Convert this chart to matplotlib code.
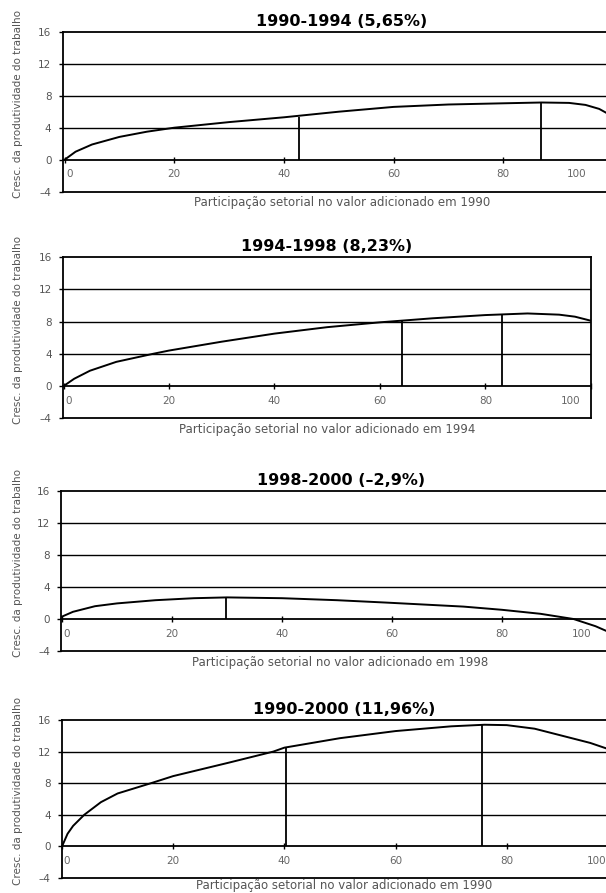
import matplotlib
matplotlib.use("Agg")
import matplotlib.pyplot as plt
from matplotlib import font_manager
from matplotlib.transforms import ScaledTranslation

# ── Data ───────────────────────────────────────────────────────
titles = ["1990-1994 (5,65%)", "1994-1998 (8,23%)", "1998-2000 (\u20132,9%)", "1990-2000 (11,96%)"]
xlabels = [
    "Participação setorial no valor adicionado em 1990",
    "Participação setorial no valor adicionado em 1994",
    "Participação setorial no valor adicionado em 1998",
    "Participação setorial no valor adicionado em 1990",
]
ylabel = "Cresc. da produtividade do trabalho"

yticks = [-4, 0, 4, 8, 12, 16]
ytick_labels = ["\u20134", "0", "4", "8", "12", "16"]
xticks = [0, 20, 40, 60, 80, 100]
xtick_labels = ["0", "20", "40", "60", "80", "100"]
grid_levels = [4, 8, 12]

# cumulative sector share (x) vs productivity growth (y)
x_9094 = [0, 2, 5, 10, 15, 20, 30, 40, 50, 60, 70, 80, 87, 92, 95, 97.5, 100]
y_9094 = [0, 1.0, 1.9, 2.85, 3.5, 4.0, 4.7, 5.3, 6.0, 6.6, 6.9, 7.05, 7.15, 7.1, 6.85, 6.35, 5.4]

x_9498 = [0, 2, 5, 10, 17, 20, 30, 40, 50, 60, 64, 70, 80, 88, 94, 97, 100]
y_9498 = [0, 0.9, 1.9, 3.0, 4.0, 4.4, 5.5, 6.5, 7.3, 7.9, 8.1, 8.4, 8.8, 9.0, 8.85, 8.6, 8.1]

x_9800 = [0, 2, 6, 10, 17, 24, 30, 40, 50, 59, 66, 73, 80, 87, 93, 97, 100]
y_9800 = [0.3, 0.9, 1.6, 1.95, 2.35, 2.6, 2.7, 2.6, 2.35, 2.05, 1.8, 1.55, 1.15, 0.65, 0, -0.9, -1.8]

x_9000 = [0, 1, 2, 4, 7, 10, 16, 20, 30, 38, 40, 50, 60, 70, 76, 80, 85, 90, 95, 100]
y_9000 = [0, 1.6, 2.6, 4.0, 5.6, 6.7, 8.0, 8.9, 10.6, 12.0, 12.5, 13.7, 14.6, 15.2, 15.4, 15.35, 14.9, 14.0, 13.1, 11.9]

series_x = [x_9094, x_9498, x_9800, x_9000]
series_y = [y_9094, y_9498, y_9800, y_9000]

# vertical markers: position and height
vline_x = [[42.8, 86.8], [64.2, 83.1], [29.8], [40.3, 75.5]]
vline_top = [[5.3, 7.15], [8.1, 8.95], [2.7], [12.5, 15.4]]

# ── Layout (pixels on a 606x893 canvas) ────────────────────────
W, H = 606, 893
# left spine, x=0 pixel, px per unit, top, bottom, x max, shift of "100" label, xlabel y
panels = [
    (62.5, 64.6, 5.483, 31.7, 191.7, 101.5, -36, -0.03),
    (62.7, 63.6, 5.272, 257.0, 418.3, 100.0, -20, -0.03),
    (61.0, 62.0, 5.50, 491.0, 651.0, 101.5, -30, -0.03),
    (61.7, 62.0, 5.56, 720.0, 878.0, 101.5, -21, -0.008),
]
YLABEL_LEN = 187  # px, length of the rotated y label in the reference


def _narrow_family():
    """Prefer a condensed face for the rotated label, if one is installed."""
    for fam in ["Liberation Sans Narrow", "DejaVu Sans Condensed"]:
        try:
            font_manager.findfont(fam, fallback_to_default=False)
            return fam
        except Exception:
            continue
    return "DejaVu Sans"


plt.rcParams["font.family"] = ["DejaVu Sans"]
fig = plt.figure(figsize=(W / 100, H / 100), dpi=100)
fig.patch.set_facecolor("white")
ylab_family = _narrow_family()

ylabel_texts = []
for i, (left, x0, ppu, top, bottom, xmax, shift100, xlab_y) in enumerate(panels):
    xmin = (left - x0) / ppu
    right = x0 + xmax * ppu
    ax = fig.add_axes([left / W, 1 - bottom / H, (right - left) / W, (bottom - top) / H])
    ax.set_xlim(xmin, xmax)
    ax.set_ylim(-4, 16)

    for lvl in grid_levels:
        ax.axhline(lvl, color="black", lw=1.0, zorder=1)
    ax.axhline(-4, color="black", lw=1.3, zorder=1, clip_on=False)

    ax.plot(series_x[i], series_y[i], color="black", lw=1.4, zorder=3)
    ax.vlines(vline_x[i], 0, vline_top[i], color="black", lw=1.3, zorder=3)

    for side in ["left", "top", "right", "bottom"]:
        ax.spines[side].set_color("black")
        ax.spines[side].set_linewidth(1.3)
    ax.spines["bottom"].set_position(("data", 0))

    ax.set_yticks(yticks)
    ax.set_yticklabels(ytick_labels)
    ax.set_xticks(xticks)
    ax.set_xticklabels(xtick_labels)
    ax.tick_params(axis="y", direction="out", length=3, width=1, pad=5,
                   labelsize=7.5, labelcolor="#555555")
    ax.tick_params(axis="x", direction="inout", length=4, width=1, pad=5,
                   labelsize=7.5, labelcolor="#666666")

    for lab in ax.get_xticklabels():
        if lab.get_text() == "0":
            lab.set_transform(lab.get_transform() + ScaledTranslation(5 / 100, 0, fig.dpi_scale_trans))
        elif lab.get_text() == "100":
            lab.set_transform(lab.get_transform() + ScaledTranslation(shift100 / 100, 0, fig.dpi_scale_trans))

    ax.set_title(titles[i], fontsize=11.5, fontweight="bold", color="black", pad=4)
    ax.set_xlabel(xlabels[i], fontsize=8.5, color="#555555")
    ax.xaxis.set_label_coords(0.5, xlab_y)
    ylab = ax.set_ylabel(ylabel, fontsize=9, color="#555555", family=ylab_family)
    ax.yaxis.set_label_coords((23 - left) / (right - left), 0.55)
    ylabel_texts.append(ylab)

# scale the rotated label so its length matches the reference
renderer = fig.canvas.get_renderer()
for t in ylabel_texts:
    ext = t.get_window_extent(renderer)
    t.set_fontsize(t.get_fontsize() * YLABEL_LEN / ext.height)

fig.savefig("out.png", dpi=100, facecolor="white")
